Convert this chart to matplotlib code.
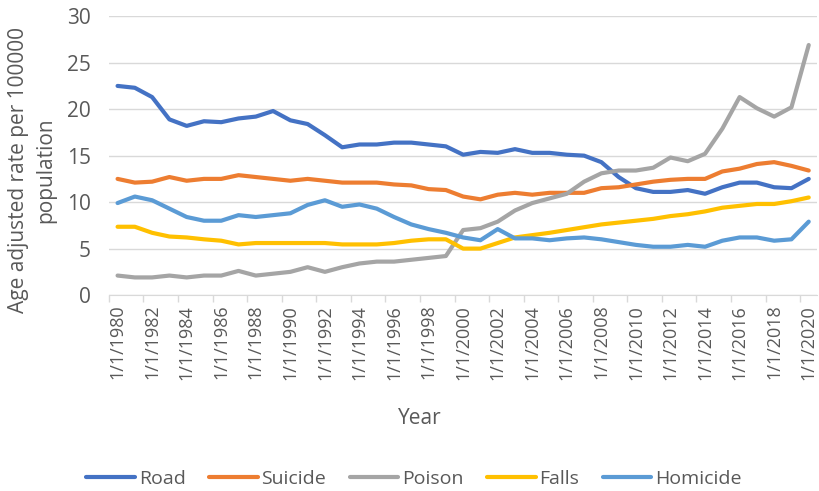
import matplotlib
matplotlib.use("Agg")
import matplotlib.pyplot as plt
import numpy as np

years = list(range(1980, 2021))
tick_labels = [f"1/1/{y}" for y in years]

road = [22.5, 22.3, 21.3, 18.9, 18.2, 18.7, 18.6, 19.0, 19.2, 19.8,
        18.8, 18.4, 17.2, 15.9, 16.2, 16.2, 16.4, 16.4, 16.2, 16.0,
        15.1, 15.4, 15.3, 15.7, 15.3, 15.3, 15.1, 15.0, 14.3, 12.7,
        11.5, 11.1, 11.1, 11.3, 10.9, 11.6, 12.1, 12.1, 11.6, 11.5, 12.5]
suicide = [12.5, 12.1, 12.2, 12.7, 12.3, 12.5, 12.5, 12.9, 12.7, 12.5,
           12.3, 12.5, 12.3, 12.1, 12.1, 12.1, 11.9, 11.8, 11.4, 11.3,
           10.6, 10.3, 10.8, 11.0, 10.8, 11.0, 11.0, 11.0, 11.5, 11.6,
           11.9, 12.2, 12.4, 12.5, 12.5, 13.3, 13.6, 14.1, 14.3, 13.9, 13.4]
poison = [2.1, 1.9, 1.9, 2.1, 1.9, 2.1, 2.1, 2.6, 2.1, 2.3,
          2.5, 3.0, 2.5, 3.0, 3.4, 3.6, 3.6, 3.8, 4.0, 4.2,
          7.0, 7.2, 7.9, 9.1, 9.9, 10.4, 10.9, 12.2, 13.1, 13.4,
          13.4, 13.7, 14.8, 14.4, 15.2, 17.9, 21.3, 20.1, 19.2, 20.2, 26.9]
falls = [7.35, 7.35, 6.7, 6.3, 6.2, 6.0, 5.85, 5.45, 5.6, 5.6,
         5.6, 5.6, 5.6, 5.45, 5.45, 5.45, 5.6, 5.85, 6.0, 6.0,
         5.0, 5.0, 5.6, 6.2, 6.45, 6.7, 7.0, 7.3, 7.6, 7.8,
         8.0, 8.2, 8.5, 8.7, 9.0, 9.4, 9.6, 9.8, 9.8, 10.1, 10.5]
homicide = [9.9, 10.6, 10.2, 9.3, 8.4, 8.0, 8.0, 8.6, 8.4, 8.6,
            8.8, 9.7, 10.2, 9.5, 9.75, 9.3, 8.4, 7.6, 7.1, 6.7,
            6.2, 5.9, 7.1, 6.1, 6.1, 5.9, 6.1, 6.2, 6.0, 5.7,
            5.4, 5.2, 5.2, 5.4, 5.2, 5.85, 6.2, 6.2, 5.85, 6.0, 7.9]

series = [("Road", road, "#4472C4"),
          ("Suicide", suicide, "#ED7D31"),
          ("Poison", poison, "#A5A5A5"),
          ("Falls", falls, "#FFC000"),
          ("Homicide", homicide, "#5B9BD5")]

plt.rcParams['font.family'] = ['Open Sans', 'DejaVu Sans']
text_color = "#595959"

fig = plt.figure(figsize=(8.19, 4.91), dpi=100)
ax = fig.add_axes([0.133, 0.399, 0.865, 0.568])

x = np.arange(len(years))
for name, vals, col in series:
    ax.plot(x, vals, color=col, lw=3.0, label=name, solid_capstyle='round', solid_joinstyle='round')

ax.set_xlim(-0.5, len(years) - 0.5)
ax.set_ylim(0, 30)
ax.set_yticks(range(0, 31, 5))
ax.grid(axis='y', color='#D9D9D9', lw=1)
ax.set_axisbelow(True)

ax.set_xticks(x[::2])
ax.set_xticklabels(tick_labels[::2], rotation=90)
ax.set_xticks(np.arange(-0.5, len(years), 2), minor=True)
ax.tick_params(axis='x', which='major', length=0, pad=7, labelsize=13, colors=text_color)
ax.tick_params(axis='x', which='minor', length=5, color='#D9D9D9', width=1)
ax.tick_params(axis='y', length=0, pad=13, labelsize=15, colors=text_color)

for s in ['top', 'right', 'left']:
    ax.spines[s].set_visible(False)
ax.spines['bottom'].set_color('#D9D9D9')

fig.text(32 / 819, 1 - 170 / 491, "Age adjusted rate per 100000\npopulation", rotation=90,
         ha='center', va='center', multialignment='center', fontsize=15, color=text_color,
         linespacing=1.4)
fig.text(420 / 819, 1 - 418 / 491, "Year", ha='center', va='center', fontsize=15, color=text_color)

leg = fig.legend(loc='center', bbox_to_anchor=(414 / 819, 1 - 479 / 491), ncol=5, frameon=False,
                 fontsize=14, handlelength=2.5, handletextpad=0.2, columnspacing=1.2,
                 labelcolor=text_color)

fig.savefig("out.png", dpi=100)
